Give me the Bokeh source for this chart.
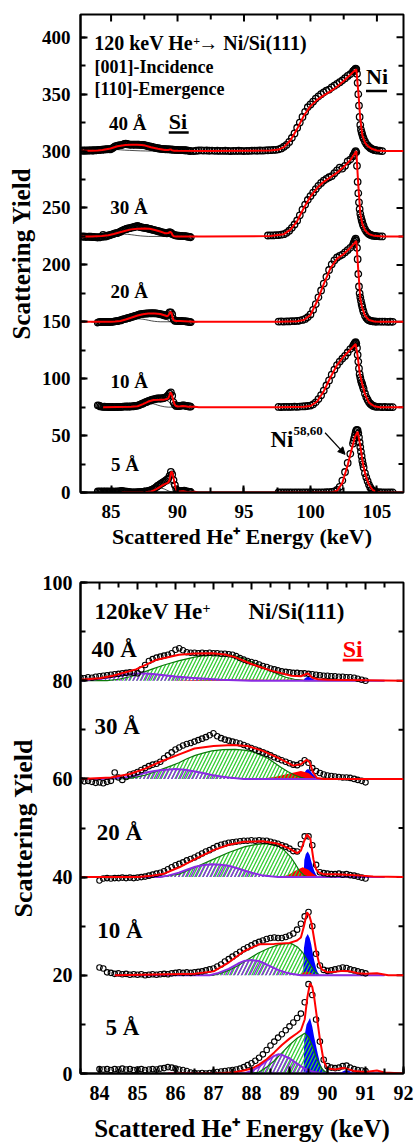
from bokeh.plotting import figure
from bokeh.models import Range1d, SingleIntervalTicker, Label, Arrow, NormalHead
from bokeh.layouts import column
from bokeh.embed import file_html
from bokeh.resources import INLINE

FONT = "Liberation Serif"


def grid(a, b, step):
    n = int(round((b - a) / step)) + 1
    return [round(a + i * step, 3) for i in range(n)]


# ---------------- axes ----------------
TOP_XR = (82.7, 107.0)
TOP_YR = (0, 420)
BOT_XR = (83.5, 92.0)
BOT_YR = (0, 100)
TOP_XTICKS = grid(85.0, 105.0, 5.0)
TOP_XMINOR = grid(82.5, 107.5, 2.5)
TOP_YTICKS = grid(0.0, 400.0, 50.0)
TOP_YMINOR = grid(0.0, 425.0, 25.0)
BOT_XTICKS = grid(84.0, 92.0, 1.0)
BOT_XMINOR = grid(83.5, 92.0, 0.5)
BOT_YTICKS = grid(0.0, 100.0, 20.0)
BOT_YMINOR = grid(0.0, 100.0, 10.0)
X_TITLE = "Scattered He⁺ Energy (keV)"
Y_TITLE = "Scattering Yield"
THICK = ["5 Å", "10 Å", "20 Å", "30 Å", "40 Å"]
TOP_OFFSETS = [0, 75, 150, 225, 300]
BOT_OFFSETS = [0, 20, 40, 60, 80]

# ---------------- Si region data (raw yield, without offset) ----------------
SI_X = grid(84.0, 91.0, 0.1)
SI_X_LONG = grid(83.5, 91.0, 0.1)

SI5 = [0.9, 0.8, 0.9, 0.7, 0.9, 0.8, 1.0, 0.8, 0.9, 0.7,
       0.8, 0.9, 0.7, 0.8, 0.9, 0.8, 1.0, 1.1, 1.3, 1.2,
       1.0, 0.8, 0.7, 0.5, 0.2, 0.1, 0.0, 0.1, 0.0, 0.1,
       0.2, 0.3, 0.4, 0.5, 0.6, 0.7, 0.8, 1.0, 1.3, 1.7,
       2.1, 2.6, 3.2, 3.9, 4.8, 5.7, 6.5, 7.3, 8.0, 8.8,
       9.6, 10.4, 11.3, 12.2, 14.5, 18.2, 16.0, 11.0, 6.5, 2.8,
       1.5, 1.2, 1.1, 1.2, 1.5, 1.6, 1.2, 0.9, 0.7, 0.6,
       0.5]
SI10 = [1.6, 1.4, 0.6, 0.5, 0.3, 0.4, 0.2, 0.3, 0.1, 0.2,
        0.1, 0.2, 0.0, 0.1, 0.2, 0.1, 0.2, 0.3, 0.2, 0.4,
        0.5, 0.6, 0.5, 0.6, 0.5, 0.6, 0.7, 0.8, 1.0, 1.2,
        1.4, 1.8, 2.2, 2.8, 3.3, 3.8, 4.3, 4.8, 5.3, 5.7,
        6.1, 6.5, 6.8, 7.1, 7.4, 7.6, 7.7, 7.6, 7.6, 7.8,
        8.1, 8.5, 9.3, 10.5, 12.0, 12.9, 10.0, 4.4, 2.0, 1.1,
        0.9, 1.0, 1.2, 1.4, 1.6, 1.5, 1.2, 1.0, 0.8, 0.6,
        0.4]
SI20 = [-0.7, -0.3, -0.2, -0.3, -0.2, -0.2, -0.1, -0.2, -0.1, -0.2,
        -0.1, 0.0, 0.1, 0.3, 0.5, 0.7, 0.9, 1.2, 1.6, 2.0,
        2.4, 2.7, 3.0, 3.4, 3.7, 4.0, 4.4, 4.8, 5.2, 5.5,
        5.9, 6.3, 6.6, 6.8, 7.0, 7.1, 7.2, 7.3, 7.4, 7.4,
        7.5, 7.4, 7.5, 7.4, 7.4, 7.2, 7.0, 6.8, 6.5, 6.2,
        5.8, 5.3, 5.2, 6.7, 8.3, 8.3, 6.5, 2.5, 1.0, 0.8,
        0.7, 0.6, 0.6, 0.7, 0.5, 0.6, 0.4, 0.3, 0.1, -0.1,
        -0.3]
SI30 = [-0.3, -0.5, -0.4, -0.6, -0.8,
        -0.7, -0.9, -0.6, -0.4, 1.3, 0.3, -0.2, 0.4, 0.9, 1.1,
        1.4, 1.8, 2.2, 2.6, 2.9, 3.1, 3.5, 4.2, 4.8, 5.4,
        6.0, 6.4, 6.8, 7.1, 7.3, 7.6, 7.9, 8.2, 8.5, 8.9,
        9.3, 8.7, 8.3, 8.0, 7.8, 7.6, 7.4, 7.2, 6.9, 6.6,
        6.3, 6.0, 5.7, 5.4, 5.1, 4.8, 4.4, 4.1, 3.8, 3.5,
        3.2, 2.9, 2.8, 3.2, 3.8, 3.3, 2.2, 1.6, 1.2, 0.9,
        0.7, 0.6, 0.5, 0.4, 0.3, 0.3, 0.2, 0.0, -0.2, -0.4,
        -0.7]
SI40 = [0.6, 0.5, 0.7, 0.6, 0.8,
        0.9, 1.0, 1.1, 1.2, 1.3, 1.4, 1.5, 1.6, 1.7, 1.6,
        1.5, 2.3, 3.2, 4.0, 4.4, 4.7, 4.9, 5.1, 5.3, 5.6,
        6.3, 6.6, 6.2, 5.8, 5.7, 5.7, 5.6, 5.7, 5.6, 5.7,
        5.6, 5.6, 5.5, 5.5, 5.4, 5.3, 5.0, 4.6, 4.3, 4.0,
        3.8, 3.6, 3.3, 3.0, 2.8, 2.5, 2.3, 2.1, 1.9, 1.8,
        1.7, 1.6, 1.6, 1.5, 1.5, 1.4, 1.3, 1.2, 1.1, 1.0,
        1.0, 0.9, 0.9, 0.8, 0.8, 0.7, 0.7, 0.6, 0.4, 0.2,
        0.0]

# extra data only visible in the wide (upper) panel
TOP_LEFT_X = grid(82.8, 83.4, 0.1)
TOP40_LEFT = [0.4, 0.5, 0.3, 0.6, 0.4, 0.5, 0.6]
TOP30_LEFT = [-0.2, 0.0, -0.3, -0.1, -0.4, -0.2, -0.3]
TOP40_GAP_X = grid(91.2, 97.4, 0.2)
TOP40_GAP = [0.0, 0.3, 0.5, 0.6, 0.4, 0.5, 0.3, 0.4, 0.2, 0.3, 0.1, 0.2, 0.3, 0.1, 0.0, 0.2,
             0.1, 0.3, 0.2, 0.0, 0.1, 0.2, 0.3, 0.4, 0.3, 0.5, 0.4, 0.6, 0.7, 0.8, 1.0, 1.1]

# ---------------- Si region fits (red) ----------------
FIT5_X = [85.8, 87.0, 87.5, 87.8, 88.0, 88.2, 88.4, 88.6, 88.8, 89.0, 89.2, 89.3, 89.4, 89.47, 89.54,
          89.6, 89.65, 89.72, 89.8, 89.9, 90.0, 90.2, 90.4, 90.5, 90.7, 91.0, 91.3, 91.5, 92.0]
FIT5_Y = [0.0, 0.0, 0.2, 0.6, 1.0, 1.8, 2.9, 4.3, 5.8, 7.1, 8.2, 8.8, 11.0, 15.5, 18.4,
          17.6, 15.5, 11.5, 7.0, 2.5, 1.0, 0.8, 1.1, 1.0, 0.5, 0.3, 0.6, 0.2, 0.0]
FIT10_X = [84.4, 86.5, 87.0, 87.4, 87.8, 88.2, 88.6, 89.0, 89.2, 89.3, 89.38, 89.46, 89.52, 89.58,
           89.64, 89.7, 89.78, 89.85, 90.0, 90.2, 90.4, 90.6, 90.8, 91.0, 91.3, 91.6, 92.0]
FIT10_Y = [0.0, 0.3, 0.8, 2.6, 4.9, 6.3, 6.4, 6.6, 7.1, 7.7, 10.0, 12.8, 12.2, 10.6,
           7.8, 5.0, 2.4, 1.2, 0.6, 0.7, 0.9, 0.8, 0.4, 0.3, 0.4, 0.0, 0.0]
FIT20_X = [83.5, 85.0, 85.3, 85.7, 86.1, 86.5, 87.0, 87.4, 87.8, 88.3, 88.7, 89.0, 89.2, 89.3,
           89.38, 89.46, 89.55, 89.63, 89.7, 89.78, 89.9, 90.2, 90.5, 90.9, 91.2, 92.0]
FIT20_Y = [0.0, 0.0, 0.2, 0.7, 2.0, 3.6, 5.5, 6.6, 7.2, 7.3, 6.8, 5.8, 4.9, 5.4,
           7.2, 8.7, 7.8, 3.6, 1.6, 0.9, 0.6, 0.6, 0.5, 0.3, 0.1, 0.0]
FIT30_X = [83.5, 84.3, 84.8, 85.2, 85.6, 86.1, 86.5, 87.0, 87.5, 87.9, 88.3, 88.7, 89.1, 89.3,
           89.45, 89.53, 89.62, 89.72, 89.9, 92.0]
FIT30_Y = [0.0, 0.3, 1.0, 2.1, 3.5, 5.0, 6.2, 6.7, 6.9, 6.7, 5.7, 4.3, 2.7, 3.0,
           3.9, 3.4, 1.3, 0.2, 0.0, 0.0]
FIT40_X = [83.5, 84.0, 84.35, 84.96, 85.48, 86.09, 86.5, 86.96, 87.3, 87.57, 88.0, 88.52, 89.05,
           89.3, 89.48, 89.6, 89.75, 90.0, 92.0]
FIT40_Y = [0.2, 0.5, 1.0, 2.3, 4.2, 5.3, 5.55, 5.6, 5.35, 4.8, 3.4, 2.05, 1.0,
           0.9, 1.5, 0.6, 0.3, 0.2, 0.0]

# ---------------- fit components ----------------
P5_X = [85.8, 87.8, 88.0, 88.2, 88.4, 88.6, 88.7, 88.8, 89.0, 89.2, 89.4, 89.6, 89.8, 90.0, 91.5]
P5_Y = [0, 0, 0.5, 1.4, 2.6, 3.6, 3.9, 3.8, 3.1, 2.0, 1.0, 0.4, 0.1, 0, 0]
G5_X = [85.8, 88.0, 88.2, 88.4, 88.6, 88.8, 89.0, 89.2, 89.4, 89.5, 89.6, 89.7, 89.8, 89.9, 90.0, 91.5]
G5_Y = [0, 0, 0.3, 1.3, 2.6, 4.2, 5.8, 7.2, 8.2, 7.4, 5.6, 3.4, 1.6, 0.6, 0, 0]
B5_X = [89.37, 89.39, 89.45, 89.54, 89.6, 89.65, 89.7, 89.75, 89.8, 89.87, 89.95, 90.05, 90.3, 90.45, 90.55, 90.7]
B5_Y = [0, 7.5, 10.0, 11.3, 9.5, 7.4, 5.6, 3.8, 2.2, 0.9, 0.3, 0, 0, 0.6, 0.6, 0]

P10_X = [84.4, 86.9, 87.1, 87.4, 87.65, 87.8, 88.0, 88.2, 88.35, 88.5, 88.7, 88.9, 89.04, 89.3, 91.5]
P10_Y = [0, 0, 0.4, 1.3, 2.4, 2.9, 3.1, 2.9, 2.4, 1.8, 1.1, 0.6, 0.3, 0, 0]
G10_X = [84.4, 87.0, 87.13, 87.4, 87.65, 87.9, 88.17, 88.45, 88.7, 88.9, 89.04, 89.22, 89.35, 89.48,
         89.56, 89.65, 89.78, 91.5]
G10_Y = [0, 0, 0.3, 1.0, 2.0, 3.2, 4.5, 5.5, 6.2, 6.45, 6.5, 5.7, 4.6, 3.0, 2.0, 0.9, 0, 0]
B10_X = [89.36, 89.38, 89.42, 89.48, 89.53, 89.57, 89.61, 89.65, 89.7, 89.74, 89.8]
B10_Y = [0, 5.5, 7.6, 8.4, 7.6, 6.4, 4.6, 3.0, 1.5, 0.6, 0]
R10_X = [89.2, 89.35, 89.45, 89.55, 89.7]
R10_Y = [0, 0.5, 0.8, 0.5, 0]

P20_X = [83.5, 85.6, 85.8, 86.09, 86.3, 86.52, 86.75, 86.96, 87.2, 87.4, 87.6, 87.83, 88.05, 88.26,
         88.5, 88.7, 91.5]
P20_Y = [0, 0, 0.3, 0.9, 1.5, 2.1, 2.45, 2.6, 2.5, 2.3, 1.85, 1.3, 0.8, 0.4, 0.15, 0, 0]
G20_X = [83.5, 85.5, 85.65, 86.09, 86.52, 86.96, 87.4, 87.83, 88.1, 88.35, 88.55, 88.7, 88.87, 89.04,
         89.15, 89.26, 89.39, 89.5, 91.5]
G20_Y = [0, 0, 0.1, 0.6, 2.0, 3.5, 5.0, 6.2, 6.6, 6.8, 6.7, 6.4, 5.4, 4.0, 2.7, 1.3, 0.3, 0, 0]
B20_X = [89.37, 89.39, 89.43, 89.48, 89.53, 89.57, 89.61, 89.65, 89.7, 89.76]
B20_Y = [0, 3.5, 4.7, 5.2, 4.5, 3.3, 2.2, 1.3, 0.5, 0]
R20_X = [88.8, 89.0, 89.2, 89.35, 89.5, 89.6, 89.75]
R20_Y = [0, 0.6, 1.5, 2.0, 1.5, 0.8, 0]

P30_X = [83.5, 84.0, 84.4, 84.78, 85.0, 85.22, 85.45, 85.65, 86.0, 86.25, 86.52, 86.75, 86.96, 87.2,
         87.4, 87.8, 91.5]
P30_Y = [0, 0, 0.15, 0.4, 0.8, 1.3, 1.6, 1.8, 2.0, 1.85, 1.5, 1.15, 0.8, 0.5, 0.3, 0, 0]
G30_X = [83.5, 84.5, 84.78, 85.0, 85.22, 85.45, 85.65, 85.9, 86.09, 86.3, 86.52, 86.75, 86.96, 87.25,
         87.57, 87.8, 88.0, 88.2, 88.43, 88.6, 88.78, 88.95, 89.13, 89.3, 89.45, 91.5]
G30_Y = [0, 0, 0.1, 0.4, 0.8, 1.4, 2.0, 2.7, 3.3, 4.1, 4.8, 5.3, 5.7, 5.95,
         6.0, 5.85, 5.6, 5.0, 4.2, 3.3, 2.3, 1.5, 0.8, 0.3, 0, 0]
B30_X = [89.37, 89.39, 89.44, 89.49, 89.55, 89.62, 89.7, 89.76]
B30_Y = [0, 1.2, 1.8, 2.0, 1.6, 0.9, 0.3, 0]
R30_X = [88.2, 88.6, 89.0, 89.3, 89.5, 89.6, 89.7]
R30_Y = [0, 0.4, 1.1, 1.6, 1.2, 0.6, 0]

P40_X = [83.5, 83.8, 84.1, 84.4, 84.7, 85.0, 85.2, 85.4, 85.7, 86.0, 86.4, 86.8, 87.2, 87.6, 88.0, 91.5]
P40_Y = [0, 0.2, 0.5, 0.9, 1.25, 1.45, 1.45, 1.35, 1.1, 0.85, 0.6, 0.4, 0.2, 0.1, 0, 0]
G40_X = [83.5, 84.2, 84.5, 84.8, 85.04, 85.4, 85.7, 86.1, 86.5, 86.8, 87.13, 87.4, 87.65, 87.9, 88.17,
         88.45, 88.7, 88.9, 89.13, 89.4, 91.5]
G40_Y = [0, 0, 0.3, 0.8, 1.4, 2.4, 3.2, 4.1, 4.8, 5.15, 5.3, 5.25, 4.9, 4.2, 3.3, 2.2, 1.3, 0.7, 0.3, 0, 0]
B40_X = [89.37, 89.39, 89.45, 89.5, 89.58, 89.66, 89.74]
B40_Y = [0, 0.4, 0.7, 0.8, 0.5, 0.2, 0]
R40_X = [85.8, 86.5, 87.5, 88.5, 89.3, 89.7]
R40_Y = [0, 0.15, 0.25, 0.2, 0.25, 0]

# ---------------- Ni region data (raw yield) ----------------
NI_X = grid(97.6, 103.2, 0.2) + grid(103.25, 104.0, 0.05) + grid(104.1, 105.0, 0.1) + grid(105.2, 106.2, 0.2)
NI40 = [1.5, 2.3, 3.8, 5.5, 8.0, 11.5, 15.5, 20.5, 25.0, 30.0, 34.5, 38.5, 41.0, 43.5, 46.0,
        48.0, 50.0, 51.5, 53.0, 54.0, 56.0, 57.5, 59.0, 60.5, 62.0, 64.0, 66.0, 67.5, 70.0,
        70.5, 71.0, 71.5, 72.5, 72.0, 68.0, 60.0, 50.0, 40.0, 30.0, 23.0, 19.0, 16.5, 14.5, 12.5, 11.0,
        8.5, 6.5, 5.0, 3.8, 2.8, 2.0, 1.5, 1.0, 0.8, 0.5,
        0.3, 0.0]
NI30_PRE_X = [96.8, 97.0, 97.2, 97.4]
NI30_PRE = [0.8, 1.0, 0.9, 1.1]
NI30 = [1.2, 1.5, 2.0, 3.2, 5.0, 7.5, 10.5, 14.0, 18.5, 23.5, 28.0, 32.0, 35.5, 38.5, 41.5,
        44.5, 47.0, 49.0, 50.5, 52.0, 53.0, 55.5, 58.0, 60.5, 59.5, 62.0, 66.0, 67.5, 70.5,
        71.5, 72.5, 74.0, 75.0, 74.0, 62.0, 48.0, 38.0, 30.0, 24.0, 20.0, 17.0, 14.5, 12.5, 10.5, 9.0,
        6.5, 4.5, 3.2, 2.2, 1.5, 1.0, 0.7, 0.5, 0.3, 0.2,
        0.1, 0.0]
NI20 = [0.2, 0.3, 0.2, 0.4, 0.3, 0.5, 0.6, 0.8, 1.1, 1.6, 2.5, 4.0, 6.5, 10.5, 15.5,
        21.5, 27.5, 33.5, 39.5, 45.5, 50.5, 54.0, 56.5, 58.0, 59.0, 61.0, 63.0, 65.0, 67.5,
        69.0, 70.5, 72.0, 73.0, 71.5, 65.0, 55.0, 42.0, 31.0, 25.0, 21.5, 18.5, 15.5, 13.0, 10.5, 8.5,
        5.5, 3.5, 2.2, 1.4, 0.9, 0.6, 0.4, 0.3, 0.2, 0.2,
        0.1, 0.2, 0.1, 0.0, 0.1, 0.0]
NI10 = [0.2, 0.1, 0.3, 0.2, 0.3, 0.2, 0.4, 0.3, 0.5, 0.6, 0.8, 1.0, 1.4, 2.5, 4.2,
        7.0, 10.5, 14.5, 19.0, 23.5, 28.5, 33.0, 37.0, 40.0, 42.5, 45.0, 48.0, 51.0, 53.5,
        54.5, 55.5, 56.5, 57.0, 56.0, 52.0, 46.0, 40.0, 34.0, 29.0, 26.0, 23.5, 21.5, 20.0, 18.0, 16.0,
        12.0, 9.0, 6.5, 4.5, 3.0, 2.0, 1.3, 0.8, 0.5, 0.3,
        0.2, 0.1, 0.2, 0.0, 0.1, 0.0]
NI5 = [0.0, 0.1, 0.0, 0.1, 0.0, 0.1, 0.0, 0.1, 0.0, 0.1, 0.0, 0.1, 0.0, 0.1, 0.1,
       0.0, 0.1, 0.1, 0.2, 0.3, 0.5, 1.0, 2.2, 5.0, 10.5, 18.0, 26.0, 34.0, 43.0,
       45.5, 48.0, 50.5, 53.0, 54.5, 55.0, 54.5, 52.0, 48.5, 44.0, 40.0, 36.0, 32.0, 28.0, 25.0, 22.0,
       17.0, 13.5, 10.0, 7.0, 4.5, 2.8, 1.7, 1.0, 0.6, 0.4,
       0.2, 0.1, 0.0, 0.1, 0.0, 0.1]

# ---------------- Ni region fits ----------------
NIFIT40_X = [97.0, 97.6, 98.0, 98.5, 99.0, 99.5, 100.0, 100.5, 101.0, 101.5, 102.0, 102.5, 103.0, 103.45,
             103.6, 103.75, 103.9, 104.1, 104.3, 104.6, 105.0, 105.5]
NIFIT40_Y = [0.5, 1.3, 3.5, 9.5, 19.5, 31.0, 39.5, 45.0, 49.0, 52.5, 56.5, 61.5, 67.0, 72.0,
             52.0, 28.0, 14.0, 7.5, 4.5, 2.0, 0.5, 0.0]
NIFIT30_X = [97.0, 98.0, 98.5, 99.0, 99.5, 100.0, 100.5, 101.0, 101.5, 102.0, 102.5, 103.0, 103.45,
             103.6, 103.75, 103.9, 104.1, 104.4, 104.8, 105.5]
NIFIT30_Y = [0.3, 2.0, 6.0, 13.5, 25.0, 35.0, 42.5, 48.0, 52.0, 56.0, 61.0, 67.0, 75.0,
             45.0, 20.0, 11.0, 5.5, 2.0, 0.5, 0.0]
NIFIT20_X = [97.6, 99.0, 99.5, 100.0, 100.5, 101.0, 101.5, 102.0, 102.5, 103.0, 103.45, 103.6, 103.75,
             103.9, 104.1, 104.4, 104.8, 105.2]
NIFIT20_Y = [0.0, 0.5, 1.5, 6.0, 18.0, 33.0, 47.0, 55.5, 59.5, 65.0, 71.0, 45.0, 20.0,
             12.0, 5.5, 1.5, 0.3, 0.0]
NIFIT10_X = [97.6, 99.5, 100.0, 100.5, 101.0, 101.5, 102.0, 102.5, 103.0, 103.4, 103.55, 103.7, 103.9,
             104.1, 104.4, 104.8, 105.2]
NIFIT10_Y = [0.0, 0.3, 1.0, 5.0, 14.0, 26.0, 37.0, 44.5, 50.5, 55.5, 45.0, 30.0, 20.0,
             11.5, 4.0, 0.8, 0.0]
NIFIT5_X = [97.6, 101.6, 102.0, 102.4, 102.8, 103.1, 103.35, 103.55, 103.75, 103.95, 104.15, 104.4,
            104.7, 105.0, 105.4]
NIFIT5_Y = [0.0, 0.0, 1.5, 8.5, 24.0, 38.0, 49.0, 53.5, 41.0, 25.0, 15.0, 7.0, 2.0, 0.5, 0.0]

# ---------------- colours ----------------
RED = "#FF0000"
BLUE = "#0000FF"
PURPLE = "#8A2BE2"
GREEN_HATCH = "#33CC33"
GREEN_LINE = "#0A7A0A"

# table built from the named arrays
SPEC = [
    dict(sx=SI_X, sy=SI5, fx=FIT5_X, fy=FIT5_Y, px=P5_X, py=P5_Y, gx=G5_X, gy=G5_Y,
         bx=B5_X, by=B5_Y, rx=None, ry=None, nfx=NIFIT5_X, nfy=NIFIT5_Y, ny=NI5),
    dict(sx=SI_X, sy=SI10, fx=FIT10_X, fy=FIT10_Y, px=P10_X, py=P10_Y, gx=G10_X, gy=G10_Y,
         bx=B10_X, by=B10_Y, rx=R10_X, ry=R10_Y, nfx=NIFIT10_X, nfy=NIFIT10_Y, ny=NI10),
    dict(sx=SI_X, sy=SI20, fx=FIT20_X, fy=FIT20_Y, px=P20_X, py=P20_Y, gx=G20_X, gy=G20_Y,
         bx=B20_X, by=B20_Y, rx=R20_X, ry=R20_Y, nfx=NIFIT20_X, nfy=NIFIT20_Y, ny=NI20),
    dict(sx=SI_X_LONG, sy=SI30, fx=FIT30_X, fy=FIT30_Y, px=P30_X, py=P30_Y, gx=G30_X, gy=G30_Y,
         bx=B30_X, by=B30_Y, rx=R30_X, ry=R30_Y, nfx=NIFIT30_X, nfy=NIFIT30_Y, ny=NI30),
    dict(sx=SI_X_LONG, sy=SI40, fx=FIT40_X, fy=FIT40_Y, px=P40_X, py=P40_Y, gx=G40_X, gy=G40_Y,
         bx=B40_X, by=B40_Y, rx=R40_X, ry=R40_Y, nfx=NIFIT40_X, nfy=NIFIT40_Y, ny=NI40),
]


def add(vals, off):
    return [v + off for v in vals]


def setup(p, xint, yint, tick_px, xlab_px, ylab_px, xl_so, yl_so, xt_so, yt_so,
          xr, yr, wpx, hpx, xt, xm, yt, ym):
    p.grid.visible = False
    p.outline_line_color = "black"
    p.outline_line_width = 2
    p.background_fill_color = "white"
    p.border_fill_color = "white"
    xa = p.xaxis[0]
    ya = p.yaxis[0]
    xa.ticker = SingleIntervalTicker(interval=xint, num_minor_ticks=2)
    ya.ticker = SingleIntervalTicker(interval=yint, num_minor_ticks=2)
    for ax in (xa, ya):
        ax.axis_line_width = 2
        ax.axis_line_color = "black"
        ax.major_tick_in = 7
        ax.major_tick_out = 0
        ax.minor_tick_in = 5
        ax.minor_tick_out = 0
        ax.major_tick_line_width = 2
        ax.minor_tick_line_width = 2
        ax.major_label_text_font = FONT
        ax.major_label_text_font_style = "bold"
        ax.major_label_text_color = "black"
        ax.major_label_text_font_size = f"{tick_px}px"
        ax.axis_label_text_font = FONT
        ax.axis_label_text_font_style = "bold"
        ax.axis_label_text_color = "black"
    xa.axis_label = X_TITLE
    xa.axis_label_text_font_size = f"{xlab_px}px"
    xa.axis_label_standoff = xl_so
    xa.major_label_standoff = xt_so
    ya.axis_label = Y_TITLE
    ya.axis_label_text_font_size = f"{ylab_px}px"
    ya.axis_label_standoff = yl_so
    ya.major_label_standoff = yt_so
    # mirrored inward ticks on the right and top frame edges
    dx = (xr[1] - xr[0]) / wpx
    dy = (yr[1] - yr[0]) / hpx
    for ticks, ln in ((yt, 7), ([v for v in ym if v not in yt], 5)):
        ticks = [v for v in ticks if yr[0] < v < yr[1]]
        p.segment(x0=[xr[1]] * len(ticks), x1=[xr[1] - ln * dx] * len(ticks), y0=ticks, y1=ticks,
                  line_color="black", line_width=2)
    for ticks, ln in ((xt, 7), ([v for v in xm if v not in xt], 5)):
        ticks = [v for v in ticks if xr[0] < v < xr[1]]
        p.segment(x0=ticks, x1=ticks, y0=[yr[1]] * len(ticks), y1=[yr[1] - ln * dy] * len(ticks),
                  line_color="black", line_width=2)


def label(p, x, y, text, size, color="black", xoff=0, yoff=0):
    # anchor given at the text baseline
    p.add_layout(Label(x=x, y=y, text=text, text_font=FONT, text_font_style="bold",
                       text_font_size=f"{size}px", text_color=color, text_align="left",
                       text_baseline="alphabetic", x_offset=xoff, y_offset=yoff + 0.34 * size))


def underline(p, x, y, w_px, drop_px, xr, yr, wpx, hpx, color, lw):
    dx = (xr[1] - xr[0]) / wpx
    dy = (yr[1] - yr[0]) / hpx
    yy = y - drop_px * dy
    p.segment(x0=[x], x1=[x + w_px * dx], y0=[yy], y1=[yy], line_color=color, line_width=lw)


# ================= upper panel =================
TW, TH = 324, 478
top = figure(width=418, height=556, x_range=Range1d(*TOP_XR), y_range=Range1d(*TOP_YR),
             output_backend="svg", toolbar_location=None,
             min_border_left=79, min_border_right=15, min_border_top=14, min_border_bottom=64)
setup(top, 5, 50, 19, 22, 25, 3, 4, 12, 10,
      TOP_XR, TOP_YR, TW, TH, TOP_XTICKS, TOP_XMINOR, TOP_YTICKS, TOP_YMINOR)

for i, s in enumerate(SPEC):
    off = TOP_OFFSETS[i]
    top.line(s["gx"], add(s["gy"], off), line_color="black", line_width=0.7)
    top.line(s["px"], add(s["py"], off), line_color="black", line_width=0.7)
    dx = list(s["sx"])
    dy = list(s["sy"])
    nx = NI_X[:len(s["ny"])]
    ny = list(s["ny"])
    if i == 4:
        dx = TOP_LEFT_X + dx + TOP40_GAP_X
        dy = TOP40_LEFT + dy + TOP40_GAP
    if i == 3:
        dx = TOP_LEFT_X + dx
        dy = TOP30_LEFT + dy
        nx = NI30_PRE_X + nx
        ny = NI30_PRE + ny
    top.scatter(dx + nx, add(dy + ny, off), marker="circle", size=6.5, fill_color=None,
                line_color="black", line_width=1.3)
    fx = list(s["fx"])
    fy = list(s["fy"])
    if i >= 2:
        fx = [TOP_XR[0]] + fx
        fy = [fy[0]] + fy
    fx = fx + list(s["nfx"]) + [TOP_XR[1]]
    fy = fy + list(s["nfy"]) + [0.0]
    top.line(fx, add(fy, off), line_color=RED, line_width=2)

label(top, 83.73, 388.8, "120 keV He", 20)
label(top, 83.73, 388.8, "+", 12, xoff=99, yoff=5)
label(top, 83.73, 388.8, "→ Ni/Si(111)", 20, xoff=104)
label(top, 83.75, 368.8, "[001]-Incidence", 18)
label(top, 83.75, 349.0, "[110]-Emergence", 18)
for name, x, y in zip(THICK, [85.0, 84.95, 84.95, 84.93, 84.85], [18.8, 92.2, 171.0, 245.0, 318.9]):
    label(top, x, y, name, 19)
label(top, 89.34, 319.8, "Si", 22)
underline(top, 89.34, 319.8, 20, 4, TOP_XR, TOP_YR, TW, TH, "black", 2.5)
label(top, 104.18, 358.9, "Ni", 22)
underline(top, 104.18, 358.9, 21, 7, TOP_XR, TOP_YR, TW, TH, "black", 2.5)
label(top, 96.99, 39.3, "Ni", 23)
label(top, 96.99, 39.3, "58,60", 13, xoff=23, yoff=12)
top.add_layout(Arrow(end=NormalHead(size=7, fill_color="black", line_color="black"),
                     x_start=101.1, y_start=52.5, x_end=102.6, y_end=33.5,
                     line_color="black", line_width=1.2))

# ================= lower panel =================
BW, BH = 326, 491
bot = figure(width=418, height=588, x_range=Range1d(*BOT_XR), y_range=Range1d(*BOT_YR),
             output_backend="svg", toolbar_location=None,
             min_border_left=80, min_border_right=12, min_border_top=26, min_border_bottom=71)
setup(bot, 1, 20, 20, 25, 26, 12, 2, 12, 8,
      BOT_XR, BOT_YR, BW, BH, BOT_XTICKS, BOT_XMINOR, BOT_YTICKS, BOT_YMINOR)

for i, s in enumerate(SPEC):
    off = BOT_OFFSETS[i]
    bot.varea(x=s["bx"], y1=[off] * len(s["bx"]), y2=add(s["by"], off), fill_color=BLUE, fill_alpha=1)
    if s["rx"] is not None:
        bot.varea(x=s["rx"], y1=[off] * len(s["rx"]), y2=add(s["ry"], off), fill_color=RED, fill_alpha=1)
    bot.varea(x=s["gx"], y1=[off] * len(s["gx"]), y2=add(s["gy"], off), fill_alpha=0,
              hatch_pattern="/", hatch_color=GREEN_HATCH, hatch_scale=7, hatch_weight=1.3)
    bot.varea(x=s["px"], y1=[off] * len(s["px"]), y2=add(s["py"], off), fill_alpha=0,
              hatch_pattern="/", hatch_color=PURPLE, hatch_scale=8, hatch_weight=1.4)
    bot.line(s["gx"], add(s["gy"], off), line_color=GREEN_LINE, line_width=1.2)
    bot.line(s["px"], add(s["py"], off), line_color=PURPLE, line_width=2)
    bot.scatter(s["sx"], add(s["sy"], off), marker="circle", size=5.5, fill_color=None,
                line_color="black", line_width=1.1)
    bot.line(list(s["fx"]), add(list(s["fy"]), off), line_color=RED, line_width=2)

label(bot, 83.87, 92.5, "120keV He", 23)
label(bot, 83.87, 92.5, "+", 14, xoff=108, yoff=7)
label(bot, 87.92, 92.5, "Ni/Si(111)", 23)
for name, x, y in zip(THICK, [84.16, 83.94, 83.93, 83.87, 83.79], [7.7, 27.6, 47.4, 69.1, 84.7]):
    label(bot, x, y, name, 23)
label(bot, 90.4, 84.7, "Si", 24, color=RED)
underline(bot, 90.4, 84.7, 21, 2.5, BOT_XR, BOT_YR, BW, BH, RED, 2.7)

layout = column(top, bot, spacing=0)
open("out.html", "w").write(file_html(layout, INLINE))
